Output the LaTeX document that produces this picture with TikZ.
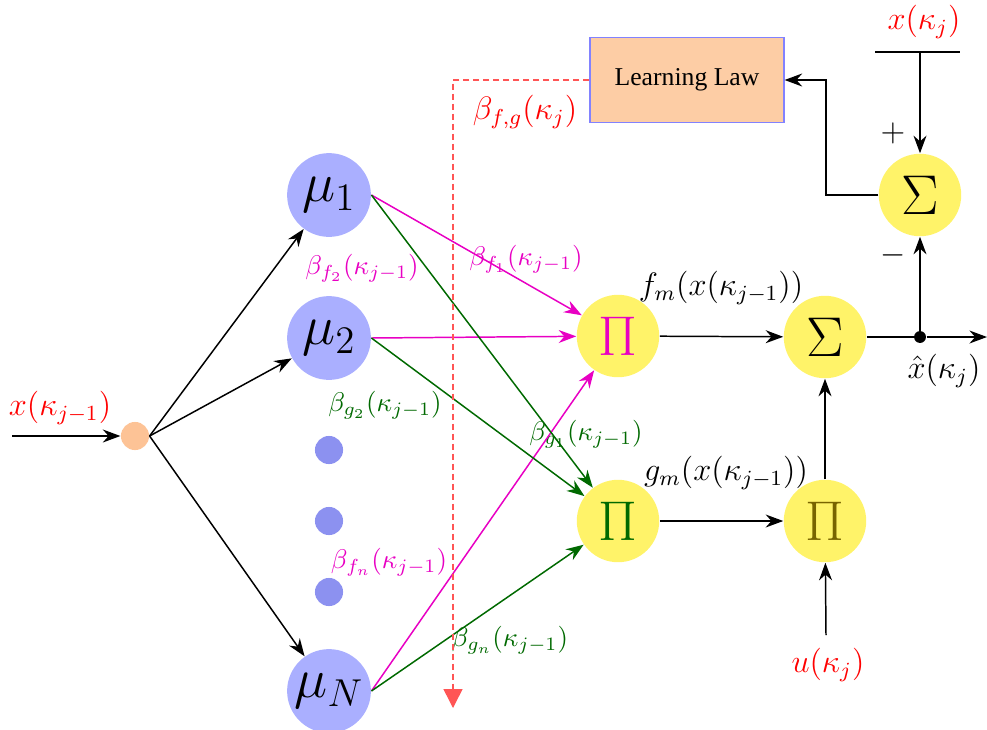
\documentclass[tikz,border=0pt]{standalone}
\usepackage{fontspec}
\newfontfamily\timesfont{Liberation Serif}
\usetikzlibrary{arrows.meta}
\definecolor{mufill}{RGB}{170,175,255}
\definecolor{dotfill}{RGB}{140,145,240}
\definecolor{yelfill}{RGB}{255,243,105}
\definecolor{infill}{RGB}{253,195,150}
\definecolor{boxfill}{RGB}{253,205,165}
\definecolor{boxdraw}{RGB}{130,130,255}
\definecolor{mag}{RGB}{232,0,195}
\definecolor{grn}{RGB}{0,105,0}
\definecolor{oliv}{RGB}{120,100,0}
\definecolor{dashred}{RGB}{255,85,85}
\begin{document}
\begin{tikzpicture}[x=0.37pt,y=-0.37pt,
  mu/.style={circle, fill=mufill, minimum size=31pt, inner sep=0pt, font=\huge},
  yel/.style={circle, fill=yelfill, minimum size=30.5pt, inner sep=0pt, font=\huge},
  smalldot/.style={circle, fill=dotfill, minimum size=10.4pt, inner sep=0pt},
  indot/.style={circle, fill=infill, minimum size=10.4pt, inner sep=0pt},
  llbox/.style={draw=boxdraw, fill=boxfill, line width=0.4pt, minimum width=71.8pt, minimum height=31.5pt, font=\timesfont\fontsize{9.5}{11}\selectfont},
  arr/.style={-{Stealth[length=6.5pt,width=4.8pt]}, line width=0.55pt},
  plain/.style={line width=0.55pt},
  lbl/.style={inner sep=0pt, font=\normalsize},
  biglbl/.style={inner sep=0pt, font=\large}]
\useasboundingbox (0,0) rectangle (987,729);

% nodes
\node[indot] (in) at (135,436) {};
\node[mu] (m1) at (329,195) {$\mu_1$};
\node[mu] (m2) at (329,338) {$\mu_2$};
\node[smalldot] (d1) at (329,450) {};
\node[smalldot] (d2) at (329,521) {};
\node[smalldot] (d3) at (329,592) {};
\node[mu] (mN) at (329,691) {$\mu_N$};
\node[yel, text=mag] (pf) at (618,336) {$\Pi$};
\node[yel, text=grn] (pg) at (618,521) {$\Pi$};
\node[yel] (sm) at (825,337) {$\Sigma$};
\node[yel, text=oliv] (pb) at (825,521) {$\Pi$};
\node[yel] (st) at (920,195) {$\Sigma$};
\node[llbox] (ll) at (687,80) {Learning Law};
\node[circle, fill=black, minimum size=4.4pt, inner sep=0pt] (jn) at (920,337) {};

\coordinate (xin) at (12,436);
\coordinate (xout) at (987,337);
\coordinate (xtop) at (920,52);
\coordinate (barl) at (875,52);
\coordinate (barr) at (960,52);
\coordinate (uin) at (826,635);
\coordinate (fb) at (826,80);
\coordinate (dcorner) at (453,80);
\coordinate (dend) at (453,708);

% labels
\node[biglbl, red] (lxin) at (60,408) {$x(\kappa_{j-1})$};
\node[biglbl, red] (lxtop) at (924,22) {$x(\kappa_j)$};
\node[biglbl, red] (lu) at (828,665) {$u(\kappa_j)$};
\node[biglbl] (lfm) at (721,288) {$f_m(x(\kappa_{j-1}))$};
\node[biglbl] (lgm) at (726,473) {$g_m(x(\kappa_{j-1}))$};
\node[biglbl] (lxhat) at (944,371) {$\hat{x}(\kappa_j)$};
\node[biglbl, red] (lbfg) at (525,112) {$\beta_{f,g}(\kappa_j)$};
\node[biglbl] (lplus) at (893,133) {$+$};
\node[biglbl] (lminus) at (893,255) {$-$};
\node[lbl, mag] (lf2) at (362,268) {$\beta_{f_2}(\kappa_{j-1})$};
\node[lbl, mag] (lf1) at (526,259) {$\beta_{f_1}(\kappa_{j-1})$};
\node[lbl, grn] (lg2) at (385,405) {$\beta_{g_2}(\kappa_{j-1})$};
\node[lbl, grn] (lg1) at (586,434) {$\beta_{g_1}(\kappa_{j-1})$};
\node[lbl, mag] (lfn) at (389,562) {$\beta_{f_n}(\kappa_{j-1})$};
\node[lbl, grn] (lgn) at (510,640) {$\beta_{g_n}(\kappa_{j-1})$};

% connectors
\draw[arr] (xin) -- (in);
\draw[arr] (in.east) -- (m1);
\draw[arr] (in.east) -- (m2);
\draw[arr] (in.east) -- (mN);

\draw[arr, mag] (m1.east) -- (pf);
\draw[arr, mag] (m2.east) -- (pf);
\draw[arr, mag] (mN.east) -- (pf);
\draw[arr, grn] (m1.east) -- (pg);
\draw[arr, grn] (m2.east) -- (pg);
\draw[arr, grn] (mN.east) -- (pg);

\draw[arr] (pf) -- (sm);
\draw[arr] (pg) -- (pb);
\draw[arr] (pb) -- (sm);
\draw[arr] (uin) -- (pb);
\draw[plain] (sm) -- (jn);
\draw[arr] (jn) -- (xout);
\draw[arr] (jn) -- (st);
\draw[plain] (barl) -- (barr);
\draw[arr] (xtop) -- (st);
\draw[arr] (st.west) -| (fb) -- (ll.east);

\draw[dashred, line width=0.55pt, dash pattern=on 2.2pt off 1.5pt] (ll.west) -- (dcorner) -- ([yshift=3pt]dend);
\draw[dashred, -{Triangle[length=7pt,width=7pt]}, line width=0.55pt] ([yshift=3pt]dend) -- (dend);
\end{tikzpicture}
\end{document}
